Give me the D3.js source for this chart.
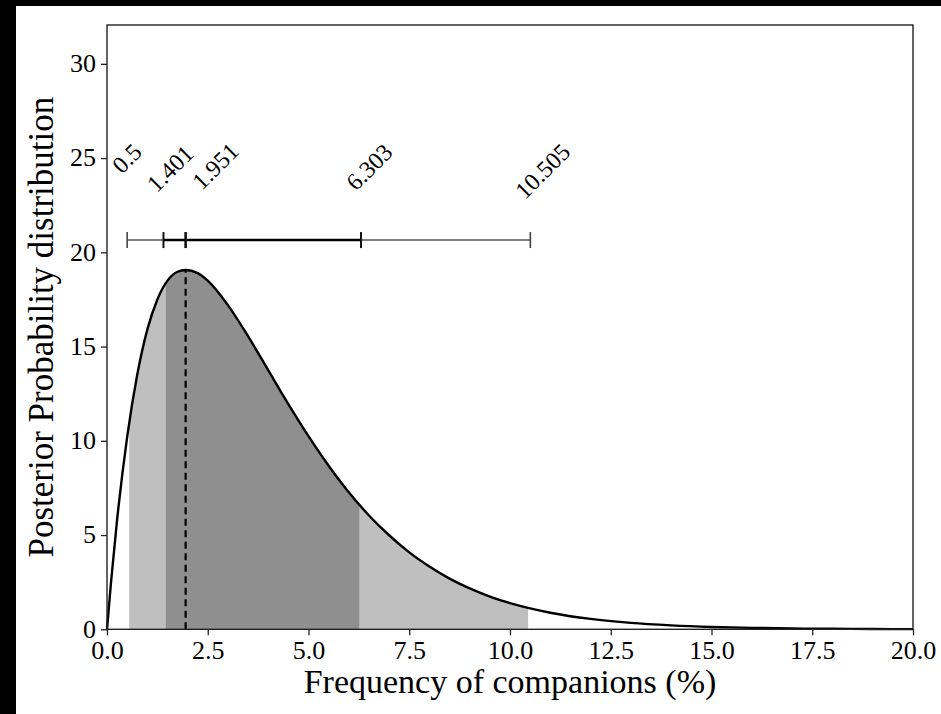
<!DOCTYPE html>
<html>
<head>
<meta charset="utf-8">
<script src="https://cdn.jsdelivr.net/npm/d3@7"></script>
<style>
  html, body { margin: 0; padding: 0; background: #000; }
  svg { display: block; }
  svg text { font-family: "Liberation Serif", "DejaVu Serif", "Times New Roman", serif !important; fill: #000; }
</style>
</head>
<body>
<script>
// ---- data ----
const freqX = [0, 0.1, 0.25, 0.5, 0.75, 1.0, 1.25, 1.5, 1.75, 1.951, 2.25, 2.5, 3.0, 3.5, 4.0, 4.5,
  5.0, 5.5, 6.0, 6.5, 7.0, 7.5, 8.0, 8.5, 9.0, 9.5, 10.0, 10.5, 11.0, 12.0, 13.0, 14.0, 15.0,
  16.0, 17.0, 18.0, 19.0, 20.0];
const posterior = [0, 2.5, 5.8, 10.2, 13.5, 15.9, 17.5, 18.5, 18.97, 19.06, 18.9, 18.5, 17.2, 15.55,
  13.75, 11.95, 10.25, 8.68, 7.27, 6.04, 4.99, 4.08, 3.33, 2.69, 2.17, 1.74, 1.39, 1.11, 0.88,
  0.55, 0.34, 0.21, 0.125, 0.075, 0.044, 0.026, 0.015, 0.009];
const intervalValues = [0.5, 1.401, 1.951, 6.303, 10.505];   // 95% lo, 68% lo, mode, 68% hi, 95% hi
const intervalLabels = ["0.5", "1.401", "1.951", "6.303", "10.505"];
const shade95 = [0.55, 10.45];
const shade68 = [1.46, 6.26];
const modeValue = 1.951;
const modePeak = 19.06;
const errorBarLevel = 20.65;
const labelLevel = [24.68, 24.14, 24.27, 24.22, 24.0];
const xTicks = [0, 2.5, 5, 7.5, 10, 12.5, 15, 17.5, 20];
const yTicks = [0, 5, 10, 15, 20, 25, 30];
const xDomain = [0, 20];
const yDomain = [0, 32.06];

// ---- layout ----
const W = 941, H = 714;
const plot = { left: 107, top: 25, right: 913, bottom: 629.3 };
const labelShiftPx = [5.5, 12.5, 35.4, 14, 18];
const FONT = '"Liberation Serif", "DejaVu Serif", serif';

const svg = d3.select("body").append("svg").attr("width", W).attr("height", H)
  .attr("font-family", FONT);
svg.append("rect").attr("x", 16).attr("y", 6).attr("width", W - 16).attr("height", H - 6).attr("fill", "#fff");

const x = d3.scaleLinear().domain(xDomain).range([plot.left, plot.right]);
const y = d3.scaleLinear().domain(yDomain).range([plot.bottom, plot.top]);

const pts = freqX.map((v, i) => [v, posterior[i]]);
const curve = d3.curveMonotoneX;
const area = d3.area().x(d => x(d[0])).y0(y(0)).y1(d => y(d[1])).curve(curve);
const line = d3.line().x(d => x(d[0])).y(d => y(d[1])).curve(curve);

const defs = svg.append("defs");
function clip(id, lo, hi) {
  defs.append("clipPath").attr("id", id).append("rect")
    .attr("x", x(lo)).attr("y", plot.top).attr("width", x(hi) - x(lo)).attr("height", plot.bottom - plot.top);
}
clip("c95", shade95[0], shade95[1]);
clip("c68", shade68[0], shade68[1]);

svg.append("path").datum(pts).attr("d", area).attr("fill", "#bfbfbf").attr("clip-path", "url(#c95)");
svg.append("path").datum(pts).attr("d", area).attr("fill", "#8f8f8f").attr("clip-path", "url(#c68)");

// mode dashed line
svg.append("line").attr("x1", x(modeValue)).attr("x2", x(modeValue))
  .attr("y1", y(0)).attr("y2", y(modePeak))
  .attr("stroke", "#000").attr("stroke-width", 2.2).attr("stroke-dasharray", "7,4.5");

// curve
svg.append("path").datum(pts).attr("d", line).attr("fill", "none")
  .attr("stroke", "#000").attr("stroke-width", 2.4);

// interval bars
const eb = svg.append("g");
const ey = y(errorBarLevel);
eb.append("line").attr("x1", x(intervalValues[0])).attr("x2", x(intervalValues[4]))
  .attr("y1", ey).attr("y2", ey).attr("stroke", "#555").attr("stroke-width", 1.6);
eb.append("line").attr("x1", x(intervalValues[1])).attr("x2", x(intervalValues[3]))
  .attr("y1", ey).attr("y2", ey).attr("stroke", "#000").attr("stroke-width", 2.4);
intervalValues.forEach((v, i) => {
  const strong = (i >= 1 && i <= 3);
  eb.append("line").attr("x1", x(v)).attr("x2", x(v)).attr("y1", ey - 8).attr("y2", ey + 8)
    .attr("stroke", strong ? "#111" : "#444").attr("stroke-width", i === 2 ? 2.6 : (strong ? 2 : 1.6));
});

// rotated value labels
intervalValues.forEach((v, i) => {
  const px = x(v) + labelShiftPx[i], py = y(labelLevel[i]);
  svg.append("text").attr("transform", `translate(${px},${py}) rotate(-45)`)
    .attr("text-anchor", "middle").attr("font-family", FONT).style("font-size", "24px").text(intervalLabels[i]);
});

// frame
svg.append("rect").attr("x", plot.left).attr("y", plot.top)
  .attr("width", plot.right - plot.left).attr("height", plot.bottom - plot.top)
  .attr("fill", "none").attr("stroke", "#222").attr("stroke-width", 1.4);

// axes
const xAxis = svg.append("g").attr("transform", `translate(0,${plot.bottom})`)
  .call(d3.axisBottom(x).tickValues(xTicks).tickFormat(d3.format(".1f")).tickSize(6).tickPadding(5));
const yAxis = svg.append("g").attr("transform", `translate(${plot.left},0)`)
  .call(d3.axisLeft(y).tickValues(yTicks).tickFormat(d3.format("d")).tickSize(6).tickPadding(5));
[xAxis, yAxis].forEach(g => {
  g.attr("font-family", FONT);
  g.select(".domain").remove();
  g.selectAll(".tick line").attr("stroke", "#222").attr("stroke-width", 1.3);
  g.selectAll(".tick text").style("font-size", "26px").attr("fill", "#000");
});
xAxis.selectAll(".tick text").attr("dy", "0.72em");
yAxis.selectAll(".tick text").attr("dy", "0.3em");

// axis titles
svg.append("text").attr("x", (plot.left + plot.right) / 2).attr("y", 693)
  .attr("text-anchor", "middle").style("font-size", "34px").text("Frequency of companions (%)");
svg.append("text").attr("transform", `translate(53,${(plot.top + plot.bottom) / 2}) rotate(-90)`)
  .attr("text-anchor", "middle").style("font-size", "35px").text("Posterior Probability distribution");
</script>
</body>
</html>
